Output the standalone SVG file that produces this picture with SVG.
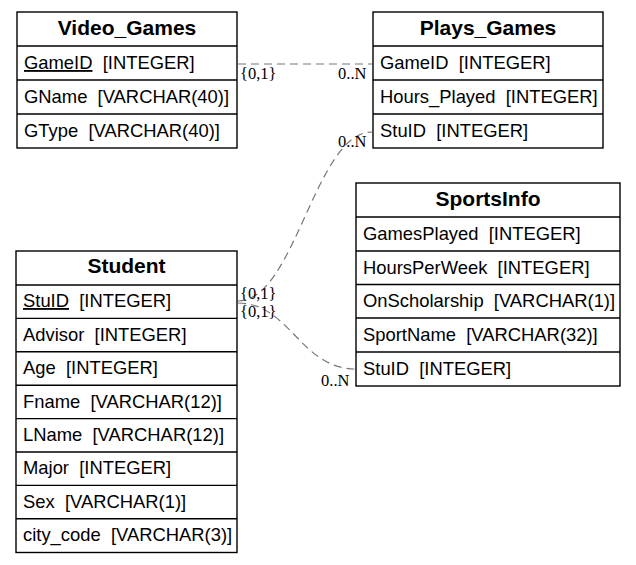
<svg xmlns="http://www.w3.org/2000/svg" width="636" height="565" viewBox="0 0 636 565" xml:space="preserve">
<style>
.box{fill:#fff;stroke:#000;stroke-width:1.4}
.sep{stroke:#000;stroke-width:1.4}
.title{font-family:"Liberation Sans",Arial,sans-serif;font-weight:bold;font-size:21px;text-anchor:middle;fill:#000}
.fld{font-family:"Liberation Sans",Arial,sans-serif;font-size:18.4px;fill:#000;white-space:pre}
.lbl{font-family:"Liberation Serif","Times New Roman",serif;font-size:16.5px;fill:#000}
.edge{fill:none;stroke:#777;stroke-width:1.2;stroke-dasharray:8,5}
</style>
<rect width="636" height="565" fill="#fff"/>
<g id="Video_Games">
<rect class="box" x="17" y="12" width="220" height="136"/>
<line class="sep" x1="17" y1="46" x2="237" y2="46"/>
<line class="sep" x1="17" y1="80" x2="237" y2="80"/>
<line class="sep" x1="17" y1="114" x2="237" y2="114"/>
<text class="title" x="127" y="35">Video_Games</text>
<text class="fld" x="24" y="69"><tspan text-decoration="underline">GameID</tspan>  [INTEGER]</text>
<text class="fld" x="24" y="103">GName  [VARCHAR(40)]</text>
<text class="fld" x="24" y="137">GType  [VARCHAR(40)]</text>
</g>
<g id="Plays_Games">
<rect class="box" x="373" y="12" width="230" height="136"/>
<line class="sep" x1="373" y1="46" x2="603" y2="46"/>
<line class="sep" x1="373" y1="80" x2="603" y2="80"/>
<line class="sep" x1="373" y1="114" x2="603" y2="114"/>
<text class="title" x="488" y="35">Plays_Games</text>
<text class="fld" x="380" y="69">GameID  [INTEGER]</text>
<text class="fld" x="380" y="103">Hours_Played  [INTEGER]</text>
<text class="fld" x="380" y="137">StuID  [INTEGER]</text>
</g>
<g id="SportsInfo">
<rect class="box" x="356" y="183" width="264" height="203"/>
<line class="sep" x1="356" y1="217" x2="620" y2="217"/>
<line class="sep" x1="356" y1="251" x2="620" y2="251"/>
<line class="sep" x1="356" y1="284.5" x2="620" y2="284.5"/>
<line class="sep" x1="356" y1="318" x2="620" y2="318"/>
<line class="sep" x1="356" y1="352" x2="620" y2="352"/>
<text class="title" x="488" y="206">SportsInfo</text>
<text class="fld" x="363" y="240">GamesPlayed  [INTEGER]</text>
<text class="fld" x="363" y="274">HoursPerWeek  [INTEGER]</text>
<text class="fld" x="363" y="307">OnScholarship  [VARCHAR(1)]</text>
<text class="fld" x="363" y="341">SportName  [VARCHAR(32)]</text>
<text class="fld" x="363" y="375">StuID  [INTEGER]</text>
</g>
<g id="Student">
<rect class="box" x="16" y="251" width="221" height="301.5"/>
<line class="sep" x1="16" y1="285" x2="237" y2="285"/>
<line class="sep" x1="16" y1="318.4" x2="237" y2="318.4"/>
<line class="sep" x1="16" y1="351.8" x2="237" y2="351.8"/>
<line class="sep" x1="16" y1="385.2" x2="237" y2="385.2"/>
<line class="sep" x1="16" y1="418.6" x2="237" y2="418.6"/>
<line class="sep" x1="16" y1="452" x2="237" y2="452"/>
<line class="sep" x1="16" y1="485.4" x2="237" y2="485.4"/>
<line class="sep" x1="16" y1="518.8" x2="237" y2="518.8"/>
<text class="title" x="126.5" y="273">Student</text>
<text class="fld" x="23" y="307"><tspan text-decoration="underline">StuID</tspan>  [INTEGER]</text>
<text class="fld" x="23" y="341">Advisor  [INTEGER]</text>
<text class="fld" x="23" y="374">Age  [INTEGER]</text>
<text class="fld" x="23" y="408">Fname  [VARCHAR(12)]</text>
<text class="fld" x="23" y="441">LName  [VARCHAR(12)]</text>
<text class="fld" x="23" y="474">Major  [INTEGER]</text>
<text class="fld" x="23" y="508">Sex  [VARCHAR(1)]</text>
<text class="fld" x="23" y="541">city_code  [VARCHAR(3)]</text>
</g>
<g id="connectors">
<path class="edge" d="M238,64 L372,64"/>
<path class="edge" d="M238,301 C295,301 315,132 372,132"/>
<path class="edge" d="M238,303 C290,303 300,369 356,369"/>
<text class="lbl" x="240" y="79">{0,1}</text>
<text class="lbl" x="338" y="79">0..N</text>
<text class="lbl" x="338" y="147">0..N</text>
<text class="lbl" x="240" y="299">{0,1}</text>
<text class="lbl" x="240" y="317">{0,1}</text>
<text class="lbl" x="321" y="386">0..N</text>
</g>
</svg>
